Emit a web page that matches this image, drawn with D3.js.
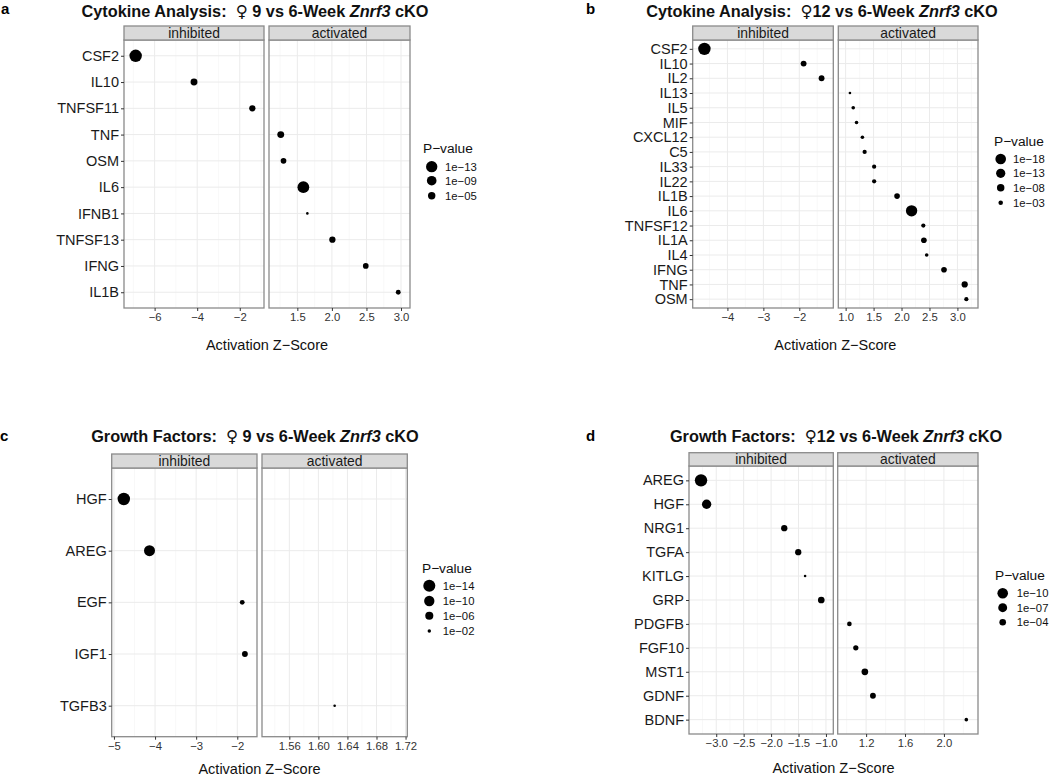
<!DOCTYPE html>
<html><head><meta charset="utf-8">
<script src="https://cdn.jsdelivr.net/npm/d3@7"></script>
<style>body{margin:0;background:#fff}svg{display:block}text{font-family:"Liberation Sans",Arial,Helvetica,sans-serif}</style>
</head><body><svg id="c" width="1050" height="776"></svg>
<script>
// ---------- DATA ----------
const aGenes = ["CSF2","IL10","TNFSF11","TNF","OSM","IL6","IFNB1","TNFSF13","IFNG","IL1B"];
const aZ     = [-6.89,-4.15,-1.41,1.26,1.30,1.587,1.645,2.007,2.49,2.96];
const aP     = [1e-16,5.4e-5,2.9e-4,5.4e-5,1.2e-3,6.3e-15,3.2e-2,2.9e-4,1.2e-3,5.5e-3];
const aBreaks = [1e-13,1e-9,1e-5];
const aInhTicks = [-6,-4,-2];
const aActTicks = [1.5,2.0,2.5,3.0];

const bGenes = ["CSF2","IL10","IL2","IL13","IL5","MIF","CXCL12","C5","IL33","IL22","IL1B","IL6","TNFSF12","IL1A","IL4","IFNG","TNF","OSM"];
const bZ     = [-4.64,-1.88,-1.38,1.077,1.136,1.195,1.30,1.34,1.51,1.51,1.92,2.18,2.39,2.40,2.45,2.76,3.13,3.16];
const bP     = [1e-26,2e-5,2e-5,8.9e-3,4.9e-3,4.9e-3,4.9e-3,1.9e-3,1.9e-3,1.9e-3,4.1e-5,6.3e-22,1.9e-3,4.1e-5,4.9e-3,4.1e-5,4e-6,1.9e-3];
const bBreaks = [1e-18,1e-13,1e-8,1e-3];
const bInhTicks = [-4,-3,-2];
const bActTicks = [1.0,1.5,2.0,2.5,3.0];

const cGenes = ["HGF","AREG","EGF","IGF1","TGFB3"];
const cZ     = [-4.76,-4.135,-1.88,-1.815,1.6224];
const cP     = [1e-15,3.2e-12,2.6e-3,4.5e-4,1.26e-2];
const cBreaks = [1e-14,1e-10,1e-6,1e-2];
const cInhTicks = [-5,-4,-3,-2];
const cActTicks = [1.56,1.60,1.64,1.68,1.72];

const dGenes = ["AREG","HGF","NRG1","TGFA","KITLG","GRP","PDGFB","FGF10","MST1","GDNF","BDNF"];
const dZ     = [-3.277,-3.175,-1.76,-1.505,-1.38,-1.085,1.028,1.094,1.187,1.27,2.23];
const dP     = [1e-14,2.1e-8,2e-4,2e-4,1e-2,8.3e-5,3e-3,1.3e-3,8.3e-5,4.7e-4,7.4e-3];
const dBreaks = [1e-10,1e-7,1e-4];
const dInhTicks = [-3.0,-2.5,-2.0,-1.5,-1.0];
const dActTicks = [1.2,1.6,2.0];

const facetNames = ["inhibited","activated"];
const xTitle = "Activation Z\u2212Score";
const legendTitle = "P\u2212value";

// ---------- LAYOUT ----------
const svg = d3.select("#c");
const fmtTick = (t, ticks) => {
  const dec = d3.max(ticks, v => { const s = String(v); return s.includes(".") ? s.split(".")[1].length : 0; });
  const d = Math.max(dec, ticks.some(v => !Number.isInteger(v)) ? 1 : 0);
  return d3.format("." + d + "f")(t).replace("-", "\u2212");
};
const fmtP = p => { const e = Math.round(Math.log10(p)); return "1e\u2212" + String(-e).padStart(2,"0"); };

function domainOf(vals){
  const [lo,hi] = d3.extent(vals);
  if (hi - lo === 0) return [lo-0.1, hi+0.1];
  const r = hi - lo; return [lo - 0.1*r, hi + 0.1*r];
}

function panel(cfg){
  const g = svg.append("g");
  const {genes, z, p, breaks, inhTicks, actTicks, L} = cfg;
  const y = d3.scalePoint().domain(genes).range([L.top, L.bottom]).padding(0.6);
  const inhVals = z.filter(v => v < 0), actVals = z.filter(v => v > 0);
  const xi = d3.scaleLinear().domain(domainOf(inhVals)).range(L.inh);
  const xa = d3.scaleLinear().domain(domainOf(actVals)).range(L.act);
  const vAll = p.map(v => -Math.log10(v));
  const tS = d3.scaleLinear().domain(d3.extent(vAll)).range([0,1]).clamp(true);
  const rad = pv => 1.3 + 4.9*Math.sqrt(tS(-Math.log10(pv)));

  g.append("text").attr("x", L.tag[0]).attr("y", L.tag[1]).attr("font-size", 15).attr("font-weight","bold").text(L.tagText);
  const tt = g.append("text").attr("x", L.titleX).attr("y", L.titleY).attr("text-anchor","middle")
    .attr("font-size", 16.3).attr("font-weight","bold").style("white-space","pre").attr("fill","#111");
  tt.append("tspan").text(cfg.titleA);
  tt.append("tspan").attr("font-family","DejaVu Sans").attr("font-weight","normal").attr("font-size",16.5).text("\u2640");
  tt.append("tspan").text(cfg.titleB);
  tt.append("tspan").attr("font-style","italic").text("Znrf3");
  tt.append("tspan").text(" cKO");

  [[xi, L.inh, inhTicks, inhVals], [xa, L.act, actTicks, actVals]].forEach(([x, rng, ticks, vals], k) => {
    const step = ticks.length > 1 ? ticks[1]-ticks[0] : 0.1;
    const dom = x.domain();
    const minors = ticks.map(t => t - step/2).concat([ticks[ticks.length-1] + step/2])
      .filter(m => m > dom[0] && m < dom[1]);
    g.append("rect").attr("x", rng[0]).attr("y", L.top).attr("width", rng[1]-rng[0]).attr("height", L.bottom-L.top).attr("fill","#fff");
    g.selectAll(null).data(minors).enter().append("line")
      .attr("x1", d => x(d)).attr("x2", d => x(d)).attr("y1", L.top).attr("y2", L.bottom)
      .attr("stroke","#f4f4f4").attr("stroke-width",0.6);
    g.selectAll(null).data(ticks).enter().append("line")
      .attr("x1", d => x(d)).attr("x2", d => x(d)).attr("y1", L.top).attr("y2", L.bottom)
      .attr("stroke","#ebebeb").attr("stroke-width",1);
    g.selectAll(null).data(genes).enter().append("line")
      .attr("x1", rng[0]).attr("x2", rng[1]).attr("y1", d => y(d)).attr("y2", d => y(d))
      .attr("stroke","#ebebeb").attr("stroke-width",1);
    const idx = z.map((v,i)=>i).filter(i => k===0 ? z[i] < 0 : z[i] > 0);
    g.selectAll(null).data(idx).enter().append("circle")
      .attr("cx", i => x(z[i])).attr("cy", i => y(genes[i])).attr("r", i => rad(p[i])).attr("fill","#000");
    g.append("rect").attr("x", rng[0]).attr("y", L.top).attr("width", rng[1]-rng[0]).attr("height", L.bottom-L.top)
      .attr("fill","none").attr("stroke","#8a8a8a").attr("stroke-width",1.3);
    g.append("rect").attr("x", rng[0]).attr("y", L.stripTop).attr("width", rng[1]-rng[0]).attr("height", L.top-L.stripTop)
      .attr("fill","#d9d9d9").attr("stroke","#8a8a8a").attr("stroke-width",1.3);
    g.append("text").attr("x", (rng[0]+rng[1])/2).attr("y", (L.top+L.stripTop)/2).attr("dy","0.35em")
      .attr("text-anchor","middle").attr("font-size",13.9).attr("fill","#1a1a1a").text(facetNames[k]);
    const ax = d3.axisBottom(x).tickValues(ticks).tickSize(3).tickPadding(2).tickFormat(t => fmtTick(t, ticks));
    const axg = g.append("g").attr("transform", `translate(0,${L.bottom})`).call(ax);
    axg.select(".domain").remove();
    axg.selectAll(".tick line").attr("stroke","#333");
    axg.selectAll(".tick text").attr("font-size",11.3).attr("fill","#333")
      .attr("font-family","Liberation Sans, Arial, sans-serif");
  });

  const ay = d3.axisLeft(y).tickSize(3).tickPadding(2);
  const ayg = g.append("g").attr("transform", `translate(${L.inh[0]},0)`).call(ay);
  ayg.select(".domain").remove();
  ayg.selectAll(".tick line").attr("stroke","#333");
  ayg.selectAll(".tick text").attr("font-size",14.5).attr("fill","#1a1a1a")
    .attr("font-family","Liberation Sans, Arial, sans-serif");

  g.append("text").attr("x", (L.inh[0]+L.act[1])/2).attr("y", L.xTitleY).attr("dy","0.35em")
    .attr("text-anchor","middle").attr("font-size",14.5).attr("fill","#111").text(xTitle);

  g.append("text").attr("x", L.leg.titleX).attr("y", L.leg.titleY).attr("dy","0.35em")
    .attr("font-size",13.7).attr("fill","#111").text(legendTitle);
  breaks.forEach((b,i) => {
    g.append("circle").attr("cx", L.leg.cx).attr("cy", L.leg.cy[i]).attr("r", rad(b)).attr("fill","#000");
    g.append("text").attr("x", L.leg.lx).attr("y", L.leg.cy[i]).attr("dy","0.35em")
      .attr("font-size",11.3).attr("fill","#111").text(fmtP(b));
  });
}

panel({genes:aGenes, z:aZ, p:aP, breaks:aBreaks, inhTicks:aInhTicks, actTicks:aActTicks,
  titleA:"Cytokine Analysis:  ", titleB:" 9 vs 6-Week ",
  L:{tagText:"a", tag:[1,14], titleX:255, titleY:17, stripTop:26, top:40, bottom:308,
     inh:[124,264], act:[269,410], xTitleY:345,
     leg:{titleX:423, titleY:148, cx:431.7, cy:[166.7,180.7,195.7], lx:445}}});

panel({genes:bGenes, z:bZ, p:bP, breaks:bBreaks, inhTicks:bInhTicks, actTicks:bActTicks,
  titleA:"Cytokine Analysis:  ", titleB:"12 vs 6-Week ",
  L:{tagText:"b", tag:[586,14], titleX:822, titleY:17, stripTop:26, top:40, bottom:308,
     inh:[692.7,833.3], act:[838.3,978], xTitleY:345,
     leg:{titleX:994, titleY:141, cx:1000.7, cy:[159,173.3,187.7,202.7], lx:1013}}});

panel({genes:cGenes, z:cZ, p:cP, breaks:cBreaks, inhTicks:cInhTicks, actTicks:cActTicks,
  titleA:"Growth Factors:  ", titleB:" 9 vs 6-Week ",
  L:{tagText:"c", tag:[0,441], titleX:255, titleY:442, stripTop:454, top:468, bottom:736.7,
     inh:[111.7,257], act:[262,407.3], xTitleY:769,
     leg:{titleX:422, titleY:568, cx:429.3, cy:[585.7,601,615.7,631], lx:442.7}}});

panel({genes:dGenes, z:dZ, p:dP, breaks:dBreaks, inhTicks:dInhTicks, actTicks:dActTicks,
  titleA:"Growth Factors:  ", titleB:"12 vs 6-Week ",
  L:{tagText:"d", tag:[586,441], titleX:836, titleY:442, stripTop:452.7, top:466, bottom:734,
     inh:[689,833.3], act:[837.7,978], xTitleY:768.3,
     leg:{titleX:995, titleY:575, cx:1002.7, cy:[593.3,607.7,622.3], lx:1016.7}}});
</script></body></html>
